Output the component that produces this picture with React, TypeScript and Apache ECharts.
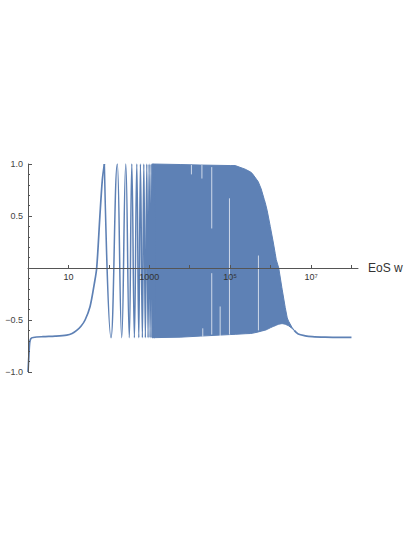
import React, { useEffect, useRef } from "react";
import * as echarts from "echarts";

// x-axis tick positions and labels
const tickValues = [1, 10, 100, 1000, 1e4, 1e5, 1e6, 1e7, 1e8];
const labelValues = [10, 1000, 1e5, 1e7];
const labelTexts = ["10", "1000", "10\u2075", "10\u2077"];
const yTickLabels: Record<string, string> = { "1": "1.0", "0.5": "0.5", "-0.5": "\u22120.5", "-1": "\u22121.0" };

// initial smooth rise (x, w)
const riseX = [1, 1.05, 1.1, 1.17, 1.35, 2.35, 4.66, 9.1, 12.3, 16, 20.4, 25.8, 34.3, 43.7, 50, 60, 69, 77.4];
const riseY = [-1.0, -0.85, -0.72, -0.68, -0.668, -0.66, -0.655, -0.645, -0.63, -0.6, -0.56, -0.5, -0.37, -0.15, 0.0, 0.5, 0.85, 1.0];

// resolved oscillation extrema (x, w)
const oscX = [77.4, 113, 162, 208, 262, 321, 369, 428, 491, 550, 603, 675, 731, 800, 867, 933, 989, 1047, 1109, 1172, 1242, 1315, 1393];
const oscY = [1.0, -0.67, 1.0, -0.67, 1.0, -0.67, 1.0, -0.67, 1.0, -0.67, 1.0, -0.67, 1.0, -0.67, 1.0, -0.67, 1.0, -0.67, 1.0, -0.67, 1.0, -0.67, 1.0];

// dense oscillation band: envelope
const bandX = [1170, 5780, 18070, 1.0e5, 1.33e5, 2.35e5, 3.13e5, 3.5e5, 4.94e5, 5.85e5, 6.95e5, 7.35e5, 8.25e5, 9.8e5, 1.16e6, 1.3e6, 1.38e6, 1.59e6, 1.9e6, 1.94e6, 2.3e6, 2.58e6, 2.77e6, 3.37e6, 3.84e6];
const bandUpper = [1.0, 0.995, 0.99, 0.985, 0.985, 0.95, 0.925, 0.91, 0.83, 0.76, 0.66, 0.63, 0.55, 0.4, 0.25, 0.14, 0.08, 0.0, -0.19, -0.21, -0.38, -0.48, -0.51, -0.57, -0.6];
const bandLower = [-0.67, -0.665, -0.655, -0.64, -0.638, -0.632, -0.63, -0.628, -0.615, -0.607, -0.6, -0.598, -0.59, -0.575, -0.562, -0.555, -0.55, -0.54, -0.535, -0.535, -0.54, -0.55, -0.555, -0.58, -0.6];

// decay tail after the band (x, w)
const tailX = [3.84e6, 4.82e6, 7.18e6, 1.07e7, 2.24e7, 5e7, 1e8];
const tailY = [-0.6, -0.635, -0.652, -0.66, -0.665, -0.667, -0.667];

// sampling gaps inside the band (x, top w, bottom w)
const gapX = [1.1e4, 2.0e4, 2.1e4, 3.5e4, 3.5e4, 5.65e4, 9.6e4, 5.0e5];
const gapTop = [0.99, 0.99, -0.58, 0.97, -0.05, -0.37, 0.67, 0.12];
const gapBottom = [0.9, 0.86, -0.66, 0.38, -0.64, -0.66, -0.64, -0.6];

const LINE = "#5E81B5";
const AXIS = "#555";
const FONT = "Liberation Sans, Arial, sans-serif";

export default function App() {
  const ref = useRef<HTMLDivElement>(null);
  useEffect(() => {
    if (!ref.current) return;
    const chart = echarts.init(ref.current, undefined, { renderer: "svg" });
    const option: any = {
      animation: false,
      backgroundColor: "#fff",
      grid: { left: 28, right: 57, top: 164, bottom: 165, containLabel: false, outerBoundsMode: "none" },
      xAxis: {
        type: "log",
        logBase: 10,
        min: 1,
        max: 1.45e8,
        position: "bottom",
        offset: -104,
        z: 10,
        name: "EoS w",
        nameLocation: "end",
        nameGap: 10,
        nameTextStyle: { fontSize: 12, color: "#333", fontFamily: FONT },
        axisLine: { onZero: false, lineStyle: { color: AXIS, width: 1 } },
        axisTick: { show: true, inside: true, length: 3, customValues: tickValues, lineStyle: { color: AXIS } },
        minorTick: { show: false },
        splitLine: { show: false },
        axisLabel: {
          customValues: labelValues,
          margin: 4,
          fontSize: 9,
          color: "#333",
          fontFamily: FONT,
          formatter: (v: number) => {
            const i = labelValues.findIndex((l) => Math.abs(Math.log10(l) - Math.log10(v)) < 1e-6);
            return i >= 0 ? labelTexts[i] : "";
          },
        },
      },
      yAxis: {
        type: "value",
        min: -1,
        max: 1,
        interval: 0.5,
        z: 10,
        axisLine: { show: true, onZero: false, lineStyle: { color: AXIS, width: 1 } },
        axisTick: { show: true, inside: true, length: 4, lineStyle: { color: AXIS } },
        minorTick: { show: true, splitNumber: 5, length: 2, lineStyle: { color: AXIS } },
        splitLine: { show: false },
        axisLabel: {
          margin: 5,
          fontSize: 9,
          color: "#444",
          fontFamily: FONT,
          formatter: (v: number) => yTickLabels[String(v)] ?? "",
        },
      },
      series: [
        {
          type: "custom",
          name: "band",
          data: bandX.map((x, i) => [x, bandUpper[i], bandLower[i]]),
          encode: { x: 0, y: [1, 2] },
          renderItem: (params: any, api: any) => {
            if (params.dataIndex !== 0) return null;
            const pts: number[][] = [];
            for (let i = 0; i < bandX.length; i++) pts.push(api.coord([bandX[i], bandUpper[i]]));
            for (let i = bandX.length - 1; i >= 0; i--) pts.push(api.coord([bandX[i], bandLower[i]]));
            return {
              type: "polygon",
              shape: { points: pts },
              style: { fill: LINE, stroke: LINE, lineWidth: 1 },
            };
          },
          silent: true,
          z: 1,
        },
        {
          type: "custom",
          name: "gaps",
          data: gapX.map((x, i) => [x, gapTop[i], gapBottom[i]]),
          encode: { x: 0, y: [1, 2] },
          renderItem: (params: any, api: any) => {
            const p1 = api.coord([api.value(0), api.value(1)]);
            const p2 = api.coord([api.value(0), api.value(2)]);
            return {
              type: "line",
              shape: { x1: p1[0], y1: p1[1], x2: p2[0], y2: p2[1] },
              style: { stroke: "rgba(255,255,255,0.7)", lineWidth: 1 },
            };
          },
          silent: true,
          z: 2,
        },
        {
          type: "line",
          name: "rise",
          data: riseX.map((x, i) => [x, riseY[i]]),
          showSymbol: false,
          smooth: 0.3,
          lineStyle: { color: LINE, width: 1.7 },
          z: 3,
        },
        {
          type: "line",
          name: "osc",
          data: oscX.map((x, i) => [x, oscY[i]]),
          showSymbol: false,
          smooth: 0.45,
          smoothMonotone: "x",
          lineStyle: { color: LINE, width: 1.5 },
          z: 3,
        },
        {
          type: "line",
          name: "tail",
          data: tailX.map((x, i) => [x, tailY[i]]),
          showSymbol: false,
          smooth: 0.3,
          lineStyle: { color: LINE, width: 1.7 },
          z: 3,
        },
      ],
    };
    chart.setOption(option);
    return () => chart.dispose();
  }, []);
  return <div ref={ref} style={{ position: "fixed", left: 0, top: 0, width: 415, height: 537 }} />;
}
